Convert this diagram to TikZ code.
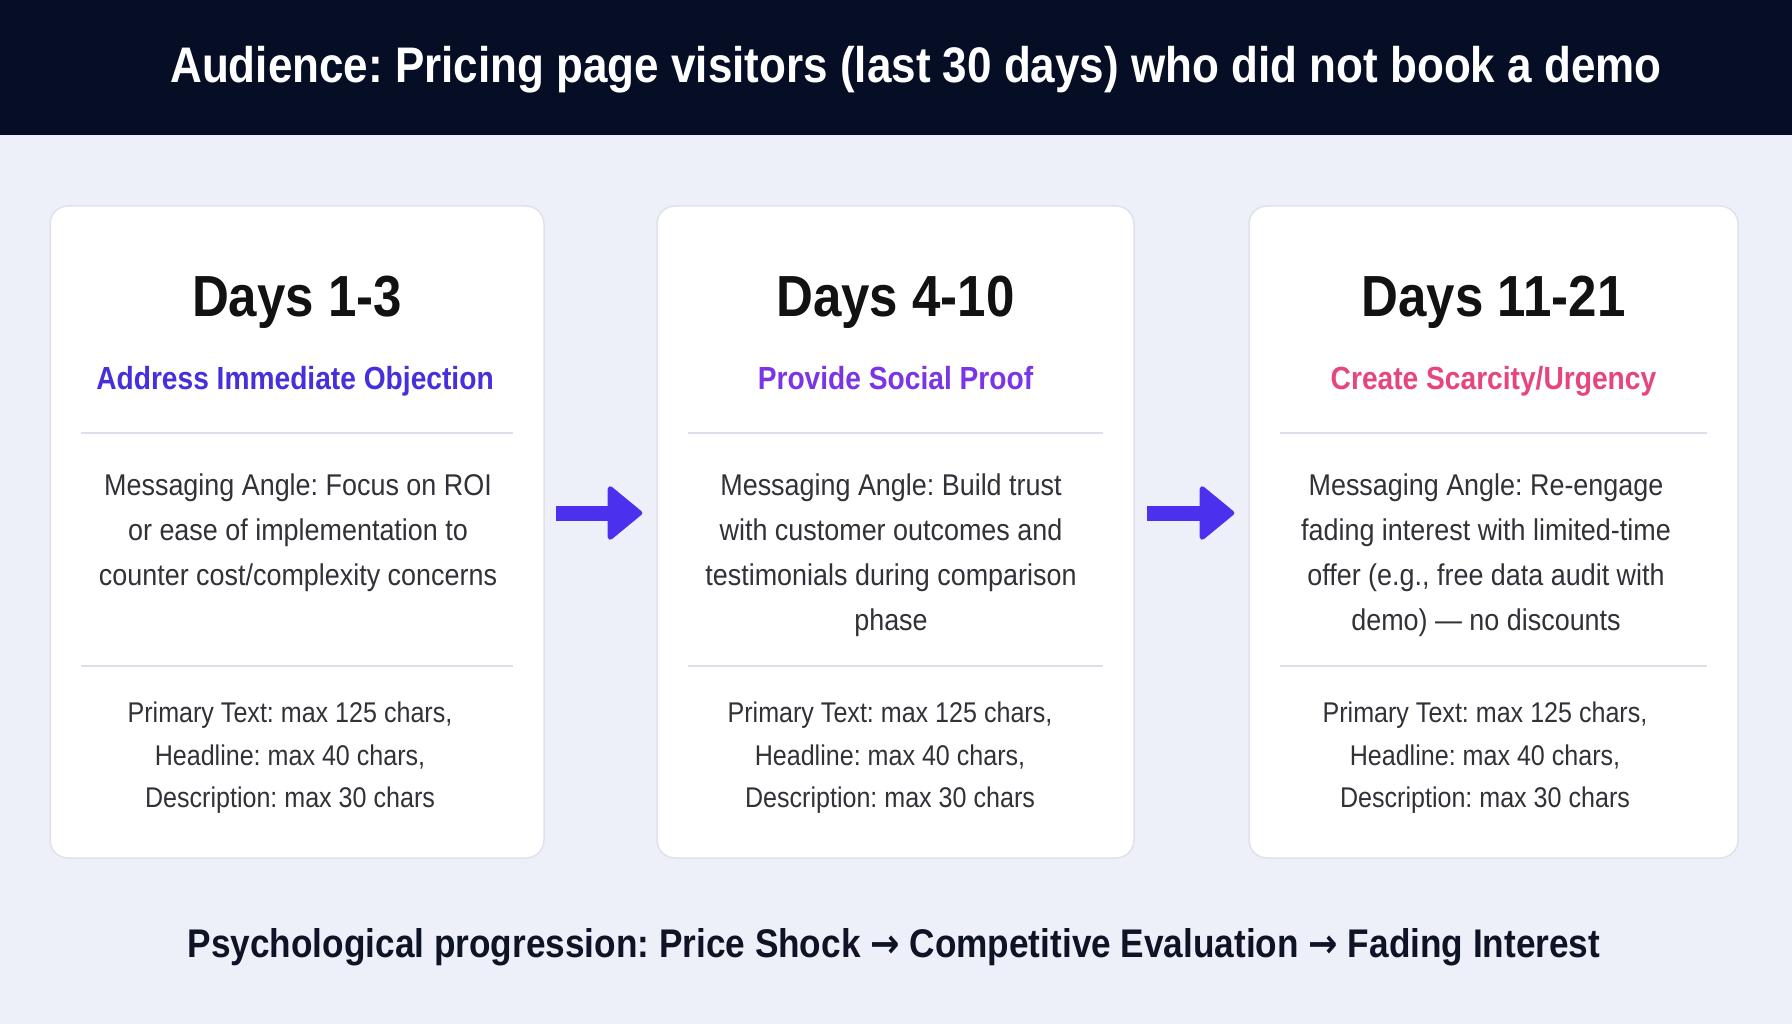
\documentclass[tikz,border=0pt]{standalone}
\usepackage{fontspec}
\setmainfont{Liberation Sans}
\newfontfamily\arrowfont{DejaVu Sans}
\usetikzlibrary{arrows.meta}
\frenchspacing

\definecolor{headbg}{HTML}{060E26}
\definecolor{pagebg}{HTML}{EEF0F9}
\definecolor{cardline}{HTML}{DFE2EC}
\definecolor{rulegray}{HTML}{DCDFE8}
\definecolor{bodytext}{HTML}{303238}
\definecolor{darktext}{HTML}{0E1326}
\definecolor{indigo}{HTML}{4630DC}
\definecolor{violet}{HTML}{7B35E6}
\definecolor{rose}{HTML}{E6457E}
\definecolor{arrowblue}{HTML}{4B30EE}

\newcommand{\progarrow}{{\arrowfont\bfseries →}}

\begin{document}
\begin{tikzpicture}[x=1pt, y=-1pt,
    card/.style={draw=cardline, line width=1.5pt, fill=white, rounded corners=18pt, inner sep=0pt},
    narrow/.style={xscale=0.88, inner sep=0pt},
    daystitle/.style={narrow, anchor=base, text=black!93, font=\fontsize{58}{70}\selectfont\bfseries},
    goal/.style={narrow, anchor=base, font=\fontsize{32}{38}\selectfont\bfseries},
    angle/.style={narrow, xscale=1.02, anchor=north, align=center, text=bodytext, font=\fontsize{30}{44.7}\selectfont},
    limits/.style={narrow, anchor=north, align=center, text=bodytext, font=\fontsize{28.5}{42.5}\selectfont},
    divider/.style={draw=rulegray, line width=2pt},
    flow/.style={draw=arrowblue, line width=15pt, -{Triangle[length=36pt 0 0, width=58pt 0 0, line width=5pt 0 0, round]}}
  ]
    \useasboundingbox (0,0) rectangle (1792,1024);
    \fill[pagebg] (0,0) rectangle (1792,1024);
    \fill[headbg] (0,0) rectangle (1792,135);

    % header
    \node[narrow, anchor=base, text=white, font=\fontsize{50}{60}\selectfont\bfseries] (title) at (916,83)
        {Audience: Pricing page visitors (last 30 days) who did not book a demo};

    % the three cards
    \node[card, minimum width=494pt, minimum height=652pt] (c1) at (297,532) {};
    \node[card, minimum width=477pt, minimum height=652pt] (c2) at (895.5,532) {};
    \node[card, minimum width=489pt, minimum height=652pt] (c3) at (1493.5,532) {};

    \draw[divider] (81,433) -- (513,433);
    \draw[divider] (81,666) -- (513,666);
    \draw[divider] (688,433) -- (1103,433);
    \draw[divider] (688,666) -- (1103,666);
    \draw[divider] (1280,433) -- (1707,433);
    \draw[divider] (1280,666) -- (1707,666);

    \node[daystitle] (d1) at (297,317) {Days 1-3};
    \node[goal, text=indigo] (g1) at (295,390) {Address Immediate Objection};
    \node[angle] (a1) at (298,474) {Messaging Angle: Focus on ROI\\or ease of implementation to\\counter cost/complexity concerns};
    \node[limits] (l1) at (290,702) {Primary Text: max 125 chars,\\Headline: max 40 chars,\\Description: max 30 chars};

    \node[daystitle] (d2) at (895.5,317) {Days 4-10};
    \node[goal, text=violet] (g2) at (895.5,390) {Provide Social Proof};
    \node[angle] (a2) at (891,474) {Messaging Angle: Build trust\\with customer outcomes and\\testimonials during comparison\\phase};
    \node[limits] (l2) at (890,702) {Primary Text: max 125 chars,\\Headline: max 40 chars,\\Description: max 30 chars};

    \node[daystitle] (d3) at (1493.5,317) {Days 11-21};
    \node[goal, text=rose] (g3) at (1493.5,390) {Create Scarcity/Urgency};
    \node[angle] (a3) at (1486,474) {Messaging Angle: Re-engage\\fading interest with limited-time\\offer (e.g., free data audit with\\demo) — no discounts};
    \node[limits] (l3) at (1485,702) {Primary Text: max 125 chars,\\Headline: max 40 chars,\\Description: max 30 chars};

    % arrows between the cards
    \draw[flow] ([xshift=11pt, yshift=19pt]c1.east) -- ([xshift=-14pt, yshift=19pt]c2.west);
    \draw[flow] ([xshift=12pt, yshift=19pt]c2.east) -- ([xshift=-14pt, yshift=19pt]c3.west);

    % footer
    \node[narrow, anchor=base, text=darktext, font=\fontsize{40}{48}\selectfont\bfseries] (prog) at (894,957)
        {Psychological progression: Price Shock \progarrow{} Competitive Evaluation \progarrow{} Fading Interest};
\end{tikzpicture}
\end{document}
